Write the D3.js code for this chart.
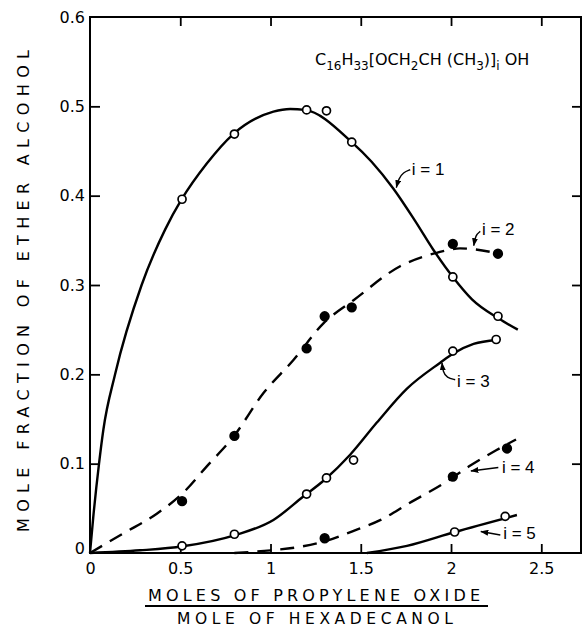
<!DOCTYPE html>
<html><head><meta charset="utf-8">
<script src="https://cdn.jsdelivr.net/npm/d3@7"></script>
<style>body{margin:0;background:#fff}svg{display:block}</style>
</head><body><svg id="c" width="584" height="629"></svg>
<script>
// ---- data ----
const xTicks = [0, 0.5, 1, 1.5, 2, 2.5];
const yTicks = [0, 0.1, 0.2, 0.3, 0.4, 0.5, 0.6];
const xTickLabels = ["0", "0.5", "1", "1.5", "2", "2.5"];
const yTickLabels = ["0", "0.1", "0.2", "0.3", "0.4", "0.5", "0.6"];

// measured points (open = solid-line series, filled = dashed series)
const i1X = [0.51, 0.80, 1.20, 1.31, 1.45, 2.01, 2.26];
const i1Y = [0.396, 0.469, 0.496, 0.495, 0.460, 0.309, 0.265];
const i2X = [0.51, 0.80, 1.20, 1.30, 1.45, 2.01, 2.26];
const i2Y = [0.058, 0.131, 0.229, 0.265, 0.275, 0.346, 0.335];
const i3X = [0.51, 0.80, 1.20, 1.31, 1.46, 2.01, 2.25];
const i3Y = [0.008, 0.021, 0.066, 0.084, 0.104, 0.226, 0.239];
const i4X = [1.30, 2.01, 2.31];
const i4Y = [0.0165, 0.0855, 0.117];
const i5X = [2.02, 2.30];
const i5Y = [0.0235, 0.041];

// fitted curves
const c1X = [0, 0.018, 0.05, 0.074, 0.139, 0.286, 0.416, 0.508, 0.647, 0.794, 1.016, 1.109, 1.19, 1.45, 1.56, 1.68, 1.80, 1.90, 2.01, 2.116, 2.26, 2.37];
const c1Y = [0, 0.04, 0.10, 0.138, 0.20, 0.300, 0.362, 0.396, 0.436, 0.469, 0.494, 0.497, 0.496, 0.46, 0.438, 0.408, 0.372, 0.340, 0.309, 0.284, 0.263, 0.25];
const c2X = [0, 0.185, 0.37, 0.514, 0.647, 0.794, 0.961, 1.127, 1.293, 1.46, 1.718, 1.92, 2.05, 2.27];
const c2Y = [0, 0.022, 0.044, 0.067, 0.097, 0.130, 0.179, 0.216, 0.257, 0.283, 0.321, 0.336, 0.341, 0.335];
const c3X = [0, 0.277, 0.514, 0.804, 1.016, 1.18, 1.30, 1.441, 1.589, 1.756, 1.94, 2.01, 2.125, 2.254];
const c3Y = [0, 0.003, 0.0075, 0.02, 0.037, 0.063, 0.082, 0.110, 0.146, 0.184, 0.213, 0.223, 0.234, 0.2385];
const c4X = [0.80, 1.0, 1.164, 1.30, 1.45, 1.61, 1.77, 1.96, 2.10, 2.25, 2.36];
const c4Y = [0, 0.003, 0.007, 0.013, 0.024, 0.037, 0.056, 0.078, 0.097, 0.115, 0.127];
const c5X = [1.534, 1.756, 2.02, 2.365];
const c5Y = [0, 0.008, 0.0235, 0.0425];

const seriesNames = ["i = 1", "i = 2", "i = 3", "i = 4", "i = 5"];

// ---- drawing ----
const svg = d3.select("#c");
const font = "'DejaVu Sans', sans-serif";
const x = d3.scaleLinear().domain([0, 2.72]).range([90, 581]);
const y = d3.scaleLinear().domain([0, 0.6]).range([553, 17]);

const defs = svg.append("defs");
defs.append("marker").attr("id", "ah").attr("viewBox", "0 0 8 6")
  .attr("refX", 7.5).attr("refY", 3).attr("markerWidth", 8).attr("markerHeight", 6)
  .attr("markerUnits", "userSpaceOnUse").attr("orient", "auto")
  .append("path").attr("d", "M0,0L8,3L0,6z").attr("fill", "#000");

// frame
svg.append("rect").attr("x", x(0)).attr("y", y(0.6))
  .attr("width", x(2.72) - x(0)).attr("height", y(0) - y(0.6))
  .attr("fill", "none").attr("stroke", "#000").attr("stroke-width", 2);

function styleAxis(g, hideEnds) {
  g.select(".domain").remove();
  g.selectAll(".tick line").attr("stroke", "#000").attr("stroke-width", 1.8);
  g.selectAll(".tick text").attr("font-family", font).attr("font-size", 16).attr("fill", "#000");
  if (hideEnds) g.selectAll(".tick").filter(d => hideEnds.includes(d)).select("line").remove();
}

svg.append("g").attr("transform", `translate(${x(0)},0)`)
  .call(d3.axisLeft(y).tickValues(yTicks).tickSize(-10).tickPadding(5)
    .tickFormat((d, i) => yTickLabels[i]))
  .call(g => styleAxis(g, [0, 0.6]))
  .call(g => g.selectAll(".tick").filter(d => d === 0).select("text").attr("dy", "0.0em"));
svg.append("g").attr("transform", `translate(${x(2.72)},0)`)
  .call(d3.axisRight(y).tickValues(yTicks).tickSize(-9).tickFormat(""))
  .call(g => styleAxis(g, [0, 0.6]));
svg.append("g").attr("transform", `translate(0,${y(0)})`)
  .call(d3.axisBottom(x).tickValues(xTicks).tickSize(-9).tickPadding(10)
    .tickFormat((d, i) => xTickLabels[i]))
  .call(g => styleAxis(g, [0]));
svg.append("g").attr("transform", `translate(0,${y(0.6)})`)
  .call(d3.axisTop(x).tickValues(xTicks).tickSize(-9).tickFormat(""))
  .call(g => styleAxis(g, [0]));

// curves
const line = d3.line().x(d => x(d[0])).y(d => y(d[1])).curve(d3.curveMonotoneX);
const curves = [[c1X, c1Y, false], [c2X, c2Y, true], [c3X, c3Y, false], [c4X, c4Y, true], [c5X, c5Y, false]];
curves.forEach(([cx, cy, dashed]) => {
  svg.append("path").attr("d", line(cx.map((v, i) => [v, cy[i]])))
    .attr("fill", "none").attr("stroke", "#000").attr("stroke-width", 2.4)
    .attr("stroke-dasharray", dashed ? "14,9" : null);
});

// markers
const pts = [[i1X, i1Y, false], [i2X, i2Y, true], [i3X, i3Y, false], [i4X, i4Y, true], [i5X, i5Y, false]];
pts.forEach(([px, py, filled]) => {
  svg.append("g").selectAll("circle").data(px.map((v, i) => [v, py[i]])).join("circle")
    .attr("cx", d => x(d[0])).attr("cy", d => y(d[1]))
    .attr("r", filled ? 4.3 : 4)
    .attr("fill", filled ? "#000" : "#fff").attr("stroke", "#000").attr("stroke-width", 1.7);
});

// series labels with arrows (positions in data units)
const labelPos = [[1.783, 0.423], [2.171, 0.356], [2.033, 0.186], [2.282, 0.090], [2.289, 0.0153]];
const arrows = [
  [[1.774, 0.429], [1.735, 0.426], [1.710, 0.419], [1.697, 0.409]],
  [[2.162, 0.360], [2.136, 0.356], [2.126, 0.344]],
  [[2.023, 0.194], [1.977, 0.196], [1.955, 0.203], [1.950, 0.213]],
  [[2.262, 0.0957], [2.110, 0.0918]],
  [[2.273, 0.0202], [2.165, 0.0241]]
];
const aline = d3.line().x(d => x(d[0])).y(d => y(d[1])).curve(d3.curveBasis);
seriesNames.forEach((name, k) => {
  svg.append("text").attr("x", x(labelPos[k][0])).attr("y", y(labelPos[k][1]))
    .attr("font-family", "'Liberation Sans', Arial, sans-serif").attr("font-size", 17)
    .text(name);
  svg.append("path").attr("d", aline(arrows[k])).attr("fill", "none")
    .attr("stroke", "#000").attr("stroke-width", 1.4).attr("marker-end", "url(#ah)");
});

// formula
const f = svg.append("text").attr("x", 315).attr("y", 65)
  .attr("font-family", font).attr("font-size", 16);
const parts = [["C", 0], ["16", 1], ["H", 0], ["33", 1], ["[OCH", 0], ["2", 1], ["CH (CH", 0], ["3", 1], [")]", 0], ["i", 1], [" OH", 0]];
let cur = 0;
parts.forEach(([t, sub]) => {
  const shift = sub ? 5 : 0;
  f.append("tspan").attr("dy", shift - cur).attr("font-size", sub ? 12 : 16).text(t);
  cur = shift;
});

// axis titles
svg.append("text").attr("x", 314).attr("y", 601).attr("text-anchor", "middle")
  .attr("font-family", font).attr("font-size", 16)
  .attr("textLength", 332).attr("lengthAdjust", "spacing")
  .text("MOLES OF PROPYLENE OXIDE");
svg.append("line").attr("x1", 145).attr("x2", 488).attr("y1", 606).attr("y2", 606)
  .attr("stroke", "#000").attr("stroke-width", 2);
svg.append("text").attr("x", 315).attr("y", 624).attr("text-anchor", "middle")
  .attr("font-family", font).attr("font-size", 15.5)
  .attr("textLength", 276).attr("lengthAdjust", "spacing")
  .text("MOLE OF HEXADECANOL");
svg.append("text").attr("transform", "translate(29,291) rotate(-90)")
  .attr("text-anchor", "middle")
  .attr("font-family", font).attr("font-size", 16)
  .attr("textLength", 482).attr("lengthAdjust", "spacing")
  .text("MOLE FRACTION OF ETHER ALCOHOL");
</script>
</body></html>
